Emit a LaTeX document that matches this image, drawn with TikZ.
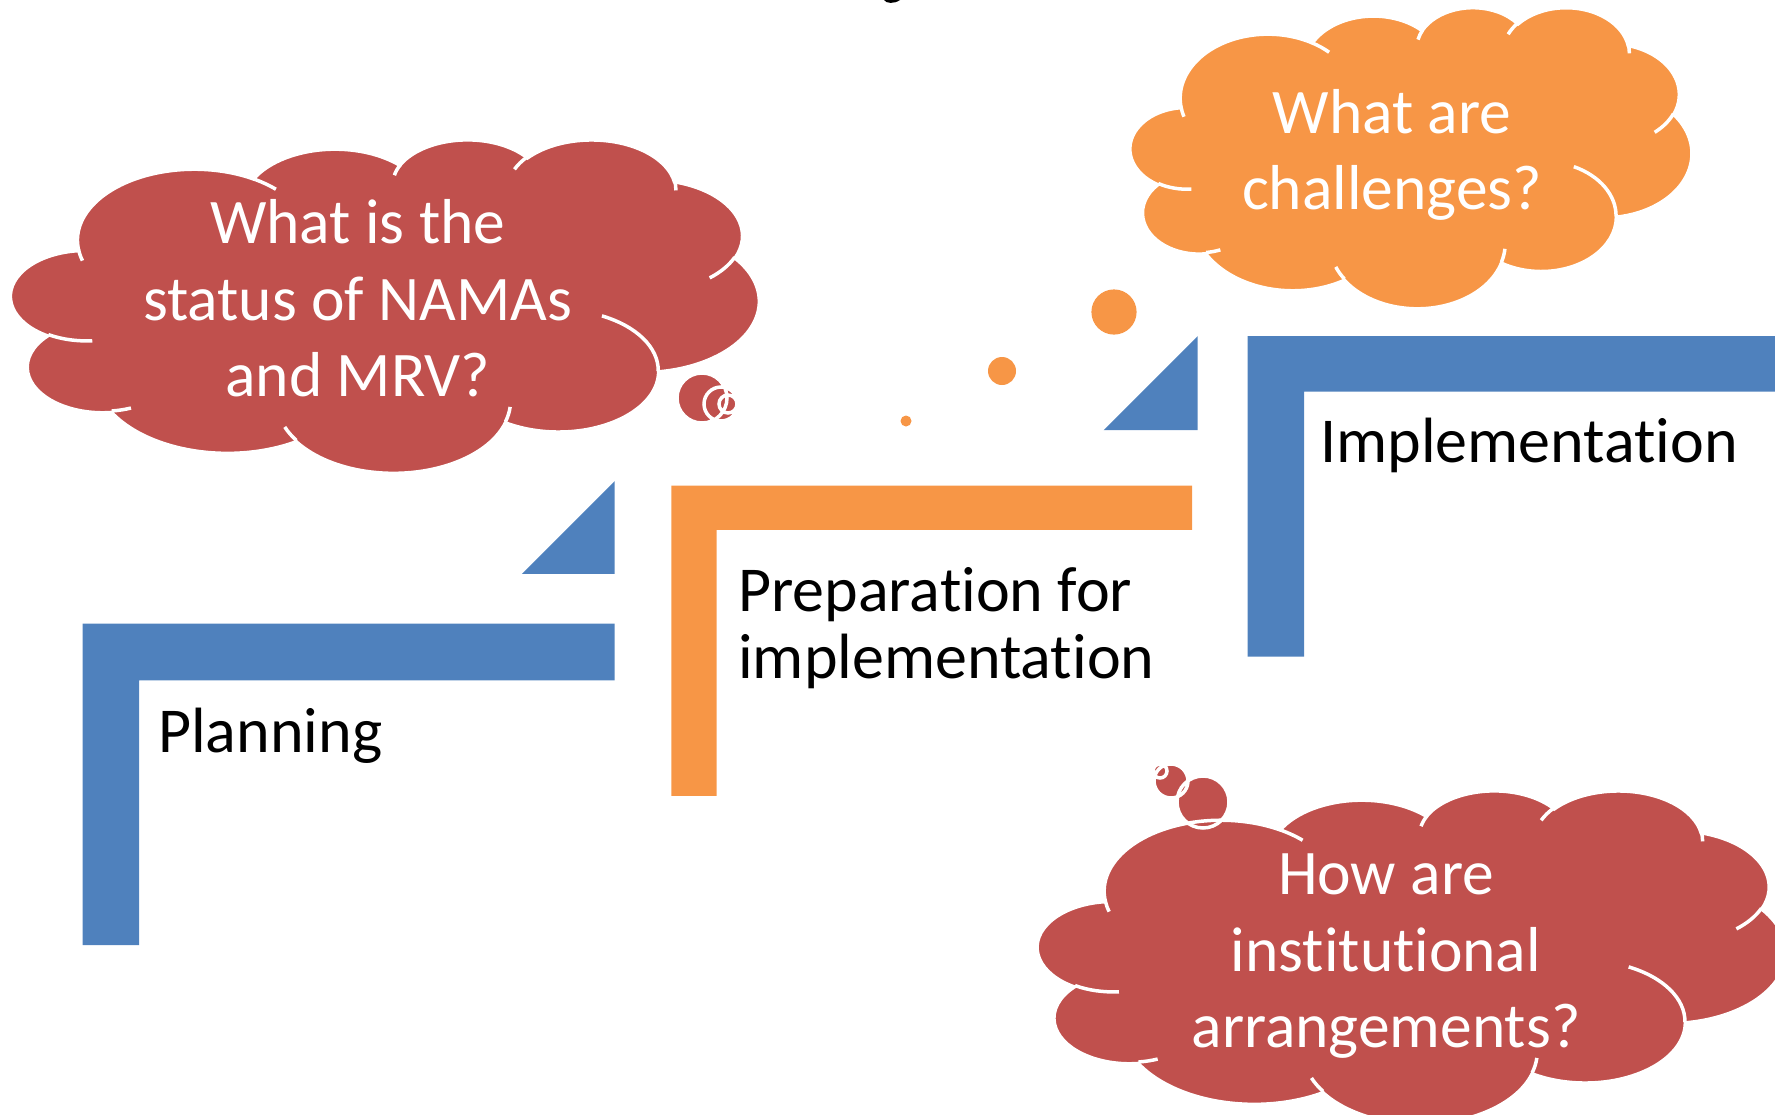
\documentclass[tikz,border=0pt]{standalone}
\usepackage{fontspec}
\setmainfont{Carlito}[RawFeature={-liga;-clig;-calt}]
\definecolor{cred}{HTML}{C0504D}
\definecolor{corange}{HTML}{F79646}
\definecolor{cblue}{HTML}{4F81BD}
% elliptical arc with DrawingML-style (visual) angles: wR hR stAng swAng
\newcommand\carc[4]{arc[start angle={atan2((#1)*sin(#3),(#2)*cos(#3))},
  delta angle={mod(atan2((#1)*sin((#3)+(#4)),(#2)*cos((#3)+(#4)))-atan2((#1)*sin(#3),(#2)*cos(#3))+720,360)},
  x radius=#1, y radius=#2]}
\newcommand\cloudbody{(39.00,143.70)
  \carc{67.53}{91.90}{-190.4875}{123.7805}
  \carc{53.33}{72.67}{-144.1024}{89.9452}
  \carc{43.65}{59.45}{-145.8079}{99.7230}
  \carc{48.57}{65.95}{-130.9861}{117.2417}
  \carc{53.33}{72.73}{-78.7089}{109.0269}
  \carc{67.75}{92.20}{-46.2673}{130.2690}
  \carc{57.85}{78.67}{0.6250}{114.0333}
  \carc{67.52}{92.15}{22.4516}{115.1726}
  \carc{77.20}{105.43}{66.2426}{75.7110}
  \carc{43.60}{59.18}{-274.9421}{146.7356}
  \carc{43.45}{59.45}{-246.8285}{152.5189}
  -- cycle}
\newcommand\cloudinner{
  (46.93,261.77) \carc{43.45}{59.45}{86.7420}{26.4295}
  (69.28,348.99) \carc{43.60}{59.18}{73.6105}{11.4475}
  (164.78,390.90) \carc{67.52}{92.15}{137.6242}{14.0811}
  (288.27,347.51) \carc{67.52}{92.15}{6.4533}{15.9984}
  (341.29,229.54) \carc{57.85}{78.67}{-70.2924}{70.9174}
  (417.98,153.54) \carc{53.33}{72.73}{30.3180}{27.7515}
  (383.24,54.26) \carc{48.57}{65.95}{-13.7443}{14.8589}
  (290.78,39.52) \carc{48.57}{65.95}{-149.1815}{18.1954}
  (221.41,47.20) \carc{43.65}{59.45}{-163.4943}{17.6864}
  (140.00,51.92) \carc{67.53}{91.90}{-66.7070}{12.3194}
  (41.27,157.89) \carc{67.53}{91.90}{157.6544}{11.8582}}
\tikzset{
  cloudline/.style={draw=white, line width=3.5pt, line cap=butt},
  steptext/.style={text=black, anchor=base west, inner sep=0pt, font=\fontsize{64}{67}\selectfont},
  cloudtext/.style={text=white, anchor=base, inner sep=0pt, font=\fontsize{63.5}{76}\selectfont},
  leftcloud/.style={shift={(11,138.8)}, xscale=748/432, yscale=333.3/432},
  botcloud/.style={shift={(1037.7,789.8)}, xscale=748/432, yscale=333.3/432},
  orcloud/.style={shift={(1130.3,6.7)}, xscale=561.4/432, yscale=301/432}
}
\begin{document}
\begin{tikzpicture}[x=1pt, y=-1pt]
\useasboundingbox (0,0) rectangle (1775,1114);

% cut-off fragment of a title above the picture
\fill[black] (884,0) .. controls (886,3.5) and (894,4.2) .. (900,0) -- cycle;

% step shapes
\fill[cblue] (82.6,623.7) -- (614.7,623.7) -- (614.7,680.3) -- (139.2,680.3) -- (139.2,945.2) -- (82.6,945.2) -- cycle;
\fill[cblue] (521.9,573.9) -- (614.7,573.9) -- (614.7,481.1) -- cycle;
\fill[corange] (671.3,485.6) -- (1192,485.6) -- (1192,529.8) -- (716.6,529.8) -- (716.6,795.8) -- (671.3,795.8) -- cycle;
\fill[cblue] (1103.7,430.2) -- (1197.7,430.2) -- (1197.7,336.2) -- cycle;
\fill[cblue] (1247.5,336.2) -- (1780,336.2) -- (1780,391.7) -- (1304,391.7) -- (1304,656.6) -- (1247.5,656.6) -- cycle;

\node[steptext] (plan) at (158,752) {Planning};
\node[steptext] (prep1) at (738,611) {Preparation for};
\node[steptext] (prep2) at (738,678) {implementation};
\node[steptext] (impl) at (1320,462) {Implementation};

% left cloud
\begin{scope}[leftcloud] \fill[cred] \cloudbody; \end{scope}
\fill[cred] (702,398) circle[radius=25] (721,404) circle[radius=17] (728,404) circle[radius=9];
\begin{scope}[leftcloud] \draw[cloudline] \cloudbody; \draw[cloudline] \cloudinner; \end{scope}
\draw[cloudline] (702,398) circle[radius=25] (721,404) circle[radius=17] (728,404) circle[radius=9];
\node[cloudtext] (q1a) at (357.7,243) {What is the};
\node[cloudtext] (q1b) at (357.7,320) {status of NAMAs};
\node[cloudtext] (q1c) at (357.7,396) {and MRV?};

% orange cloud
\begin{scope}[orcloud] \fill[corange] \cloudbody; \end{scope}
\fill[corange] (1114,312) circle[radius=22.6] (1002,371) circle[radius=14] (906,421) circle[radius=5.5];
\begin{scope}[orcloud] \draw[cloudline] \cloudbody; \draw[cloudline] \cloudinner; \end{scope}
\node[cloudtext] (q2a) at (1392,133.6) {What are};
\node[cloudtext] (q2b) at (1392,209.4) {challenges?};

% bottom cloud
\begin{scope}[botcloud] \fill[cred] \cloudbody; \end{scope}
\fill[cred] (1203,802) circle[radius=26] (1171,781) circle[radius=17] (1160,771) circle[radius=7];
\begin{scope}[botcloud] \draw[cloudline] \cloudbody; \draw[cloudline] \cloudinner; \end{scope}
\draw[cloudline] (1203,802) circle[radius=26] (1171,781) circle[radius=17] (1160,771) circle[radius=7];
\node[cloudtext] (q3a) at (1386,894) {How are};
\node[cloudtext] (q3b) at (1386,971) {institutional};
\node[cloudtext] (q3c) at (1386,1047) {arrangements?};
\end{tikzpicture}
\end{document}
